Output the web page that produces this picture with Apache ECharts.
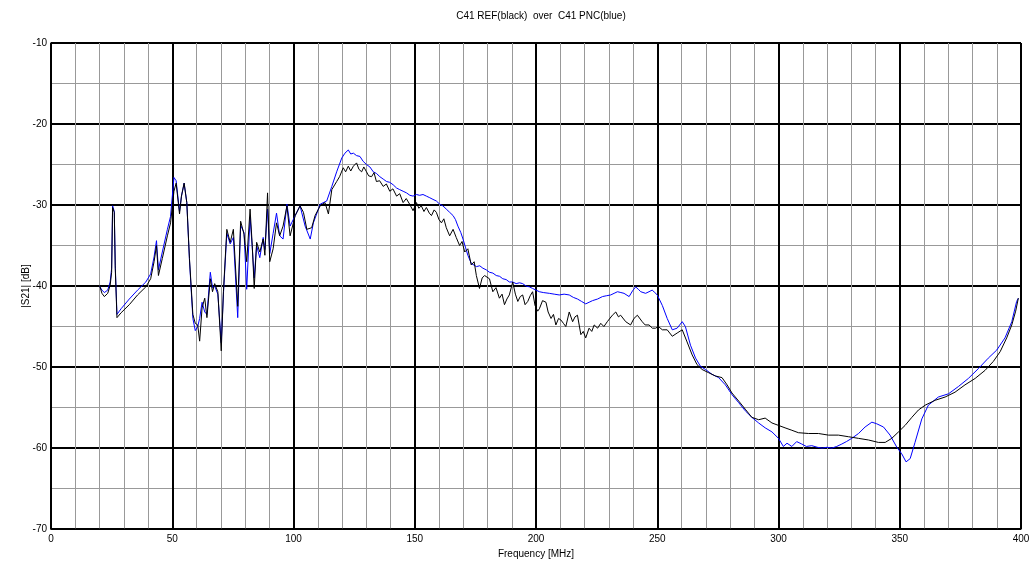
<!DOCTYPE html>
<html>
<head>
<meta charset="utf-8">
<script src="https://cdn.jsdelivr.net/npm/echarts@6/dist/echarts.min.js"></script>
<style>
  html, body { margin: 0; padding: 0; background: #fff; }
  #chart { width: 1035px; height: 564px; }
</style>
</head>
<body>
<div id="chart"></div>
<script>
// C41 REF (black) — frequency in MHz, |S21| in dB
const refFreq = [
  20, 21, 22, 23.4, 24.4, 25, 25.4, 26.1, 26.5, 27.2, 28.9, 32.3, 35.7, 39.1, 41.1, 42.5, 43.5, 44.3, 45.9, 48,
  49.3, 50.7, 51.6, 53, 53.8, 54.9, 56, 57.1, 58.5, 59.5, 60.5, 61.3, 62.3, 63.4, 64.3, 65.7, 66.6, 67.5, 68.8, 70.2,
  71.1, 72.5, 73.9, 75.2, 77, 78.2, 79.6, 80.7, 82.1, 83, 83.8, 84.8, 86.1, 87.5, 88.2, 89.3, 90.2, 91.6, 93, 94.3,
  95.7, 97.3, 98.6, 100.7, 102.7, 104.1, 105.5, 107.5, 108.9, 111, 113, 114.4, 115.8, 117.8, 119, 120.5, 121.5, 122.6, 123.6, 124.7,
  126, 127, 128.1, 129, 130.1, 131, 132.2, 133.2, 134.2, 135.5, 137, 138.3, 139.7, 141, 142.5, 143.8, 145.2, 146.5, 147.9, 149.3,
  150.7, 151.7, 152.7, 153.8, 154.8, 156, 156.9, 158, 158.9, 160, 161, 162, 163, 164.4, 165.8, 167.1, 168.5, 169.5, 170.6, 171.9,
  173.3, 174.5, 175.4, 176.7, 177.8, 178.8, 180.8, 182.2, 183.5, 184.9, 186, 187, 188, 189, 190.4, 191.5, 192.5, 193.5, 194.5, 195.5,
  196.6, 197.6, 198.6, 199.6, 200.7, 201.4, 202.7, 204.1, 205, 206.2, 207.2, 208.2, 209.3, 210.3, 211.3, 212.3, 213.7, 215.1, 216.1, 217.1,
  218.5, 219.5, 220.5, 221.9, 223, 224, 225.4, 226.7, 228, 229.4, 231.5, 232.9, 234, 234.9, 237, 239, 240.4, 241.8, 243.8, 245,
  246.6, 248, 249.3, 250.5, 252.1, 254.1, 256.2, 258.2, 260.3, 262.3, 264.4, 266.4, 268.5, 271.2, 274, 276.7, 278.8, 280.8, 283.6, 286.3,
  289, 291.8, 294.5, 297.3, 300, 302.7, 305.5, 308.2, 312.4, 316.5, 320.6, 324.7, 328.9, 333, 337.1, 341.2, 344, 346.7, 349.5, 352.2,
  355, 357.7, 360.5, 364.6, 368.7, 372.8, 376.9, 381.1, 385.2, 388.6, 391.4, 394.1, 396.2, 397.8, 398.9
];
const refDb = [
  -39.9, -40.9, -41.3, -40.9, -39.9, -38.3, -30.3, -30.9, -37.8, -43.9, -43.3, -42.3, -41.1, -40.1, -39.1, -37.0, -35.0, -38.7, -36.6, -33.8,
  -32.2, -28.3, -27.3, -31.1, -28.9, -27.3, -29.7, -36.6, -43.5, -44.6, -44.8, -46.8, -42.7, -41.5, -43.9, -39.1, -40.7, -39.7, -40.7, -48.0,
  -40.7, -33.0, -34.6, -33.0, -42.5, -32.0, -33.6, -37.0, -30.5, -35.0, -40.3, -34.6, -35.8, -34.2, -36.2, -28.5, -37.0, -35.4, -32.2, -33.8,
  -32.6, -30.1, -33.8, -31.3, -30.1, -30.9, -33.0, -32.8, -31.3, -30.1, -29.7, -31.1, -28.1, -27.1, -26.5, -25.4, -25.9, -25.2, -25.8, -25.2,
  -24.8, -25.6, -25.9, -25.3, -25.9, -26.4, -26.5, -26.0, -27.1, -27.0, -27.7, -27.4, -28.3, -28.0, -28.9, -28.6, -29.7, -29.2, -29.9, -30.7,
  -29.7, -30.4, -30.1, -30.8, -30.3, -31.0, -31.3, -30.6, -30.9, -31.8, -32.2, -31.7, -32.8, -33.8, -33.0, -34.0, -35.0, -34.5, -35.8, -35.4,
  -37.4, -37.0, -38.7, -40.3, -39.0, -38.7, -39.1, -40.7, -40.2, -41.5, -41.0, -42.3, -41.6, -41.1, -39.5, -41.0, -41.9, -41.3, -41.1, -42.3,
  -41.9, -41.2, -40.7, -42.4, -43.1, -42.8, -41.8, -42.0, -43.2, -44.0, -43.5, -44.8, -44.0, -44.2, -44.6, -45.0, -43.2, -44.4, -43.8, -43.6,
  -46.0, -45.6, -46.4, -45.2, -45.6, -44.8, -45.2, -44.6, -45.0, -44.4, -43.6, -43.2, -43.8, -43.6, -44.4, -44.8, -44.0, -43.6, -44.4, -44.8,
  -44.8, -45.2, -45.2, -45.0, -45.4, -45.4, -46.2, -45.8, -45.4, -46.9, -48.5, -49.7, -50.3, -50.7, -51.1, -51.3, -52.2, -53.2, -54.2, -55.2,
  -56.2, -56.5, -56.3, -56.9, -57.2, -57.5, -57.8, -58.1, -58.2, -58.2, -58.4, -58.4, -58.6, -58.8, -59.0, -59.3, -59.3, -58.8, -58.0, -57.2,
  -56.2, -55.3, -54.7, -54.1, -53.7, -53.1, -52.2, -51.4, -50.4, -49.3, -48.1, -46.4, -44.8, -43.1, -41.5
];

// C41 PNC (blue)
const pncFreq = [
  20, 21, 22, 23.4, 24.4, 25, 25.4, 26.1, 26.5, 27.2, 28.9, 32.3, 35.7, 39.1, 41.1, 42.5, 43.5, 44.3, 45.9, 48,
  49.3, 50.7, 51.6, 53, 53.8, 54.9, 56, 57.1, 58.5, 59.5, 60.5, 61.3, 62.3, 63.4, 64.3, 65.7, 66.6, 67.5, 68.8, 70.2,
  71.1, 72.5, 73.9, 75.2, 77, 78.2, 79.6, 80.7, 82.1, 83, 83.8, 84.8, 86.1, 87.5, 88.2, 89.3, 90.2, 91.6, 93, 94.3,
  95.7, 97.3, 98.6, 100.7, 102.7, 104.8, 106.9, 108.2, 111, 113.7, 115.8, 117.8, 119.9, 121.2, 122.6, 123.6, 124.7, 126, 127.4, 128.7,
  130.1, 131.5, 132.9, 134.2, 135.6, 137, 138.4, 139.7, 141.1, 142.5, 143.8, 145.2, 146.6, 148, 149.3, 150.7, 152, 153.4, 154.8, 156.2,
  157.5, 158.9, 160.3, 161.6, 163, 164.4, 165.8, 166.8, 167.8, 169, 169.9, 170.9, 171.9, 173.3, 175.4, 176.8, 178.1, 179.5, 180.8, 182.2,
  183.6, 185, 186.3, 187.7, 189, 190.4, 191.8, 193.2, 194.5, 195.9, 197.3, 198.6, 200, 201.4, 203, 205.5, 207.5, 209.6, 211.6, 213.7,
  215.4, 217.1, 218.8, 220.5, 221.9, 223.3, 225.4, 227.4, 229, 230.8, 232.2, 233.6, 235, 236.3, 238.4, 239.8, 241.1, 242.2, 243.2, 245.2,
  246.6, 247.9, 249, 250, 252.1, 254.1, 256.2, 258.2, 260.3, 261.6, 263.7, 265.8, 267.8, 269.9, 272.6, 275.3, 278.1, 280.8, 283.6, 286.3,
  289, 291.8, 294.5, 297.3, 300, 302, 303.5, 305.5, 307.5, 309.6, 311.5, 313.7, 316, 318, 320, 322, 324, 326.1, 328, 330.2,
  333, 335.7, 338.5, 340.5, 343.3, 346, 348.8, 350.8, 352.6, 354.3, 356.3, 359.1, 361.8, 365.9, 370.1, 374.2, 378.3, 382.4, 386.5, 390,
  393.4, 396.2, 398.2, 398.9
];
const pncDb = [
  -40.0, -40.5, -40.8, -40.5, -39.5, -37.8, -30.1, -30.8, -37.5, -43.5, -42.8, -41.6, -40.5, -39.5, -38.5, -36.4, -34.4, -38.0, -35.8, -33.0,
  -31.4, -26.6, -27.0, -30.8, -28.9, -27.3, -29.7, -36.8, -44.0, -45.5, -45.0, -44.0, -42.0, -43.2, -43.5, -38.3, -40.2, -40.0, -41.0, -47.0,
  -41.0, -33.5, -34.8, -34.0, -43.9, -32.5, -33.4, -40.4, -31.5, -35.3, -39.0, -35.0, -36.5, -34.0, -35.5, -30.5, -36.0, -33.5, -31.0, -33.8,
  -34.2, -29.9, -32.6, -31.3, -30.1, -32.6, -34.2, -32.2, -29.9, -29.5, -27.7, -25.9, -24.2, -23.6, -23.2, -23.7, -23.6, -23.9, -24.0, -24.6,
  -25.0, -25.3, -25.9, -26.1, -26.5, -26.8, -27.1, -27.2, -27.5, -27.9, -28.1, -28.3, -28.5, -28.8, -28.9, -28.7, -28.8, -28.7, -28.9, -29.1,
  -29.3, -29.5, -29.9, -30.1, -30.5, -30.9, -31.3, -31.8, -32.6, -33.4, -34.2, -35.2, -36.2, -37.2, -37.6, -37.5, -37.8, -38.0, -38.3, -38.4,
  -38.7, -38.8, -39.1, -39.2, -39.5, -39.5, -39.7, -39.6, -39.7, -40.0, -40.1, -40.3, -40.5, -40.7, -40.8, -40.9, -41.0, -41.1, -41.0, -41.1,
  -41.4, -41.6, -41.9, -42.2, -42.0, -41.8, -41.6, -41.3, -41.2, -41.1, -40.9, -40.7, -40.8, -40.9, -41.3, -40.6, -40.1, -40.4, -40.7, -40.9,
  -40.7, -40.5, -40.8, -41.1, -42.4, -44.0, -45.4, -45.2, -44.4, -45.0, -47.3, -48.9, -49.9, -50.3, -50.9, -51.3, -52.2, -53.4, -54.4, -55.4,
  -56.2, -56.9, -57.5, -58.0, -58.8, -59.8, -59.4, -59.8, -59.2, -59.5, -59.8, -59.7, -59.9, -60.0, -59.9, -60.0, -59.8, -59.5, -59.2, -58.8,
  -58.2, -57.4, -56.8, -57.0, -57.4, -58.4, -59.9, -60.7, -61.7, -61.3, -59.3, -56.4, -54.7, -53.7, -53.3, -52.4, -51.4, -50.2, -48.9, -47.9,
  -46.4, -44.4, -41.9, -41.5
];

const xTicks = [0, 50, 100, 150, 200, 250, 300, 350, 400];
const yTicks = [-70, -60, -50, -40, -30, -20, -10];

const pair = (xs, ys) => xs.map((x, i) => [x, ys[i]]);

const chart = echarts.init(document.getElementById('chart'), null, { renderer: 'canvas' });

const font = 'Liberation Sans, Arial, sans-serif';

chart.setOption({
  animation: false,
  backgroundColor: '#fff',
  title: {
    text: 'C41 REF(black)  over  C41 PNC(blue)',
    left: 536,
    textAlign: 'center',
    top: 6,
    textStyle: { fontSize: 10, fontWeight: 'normal', color: '#000', fontFamily: font }
  },
  grid: { left: 51, right: 14, top: 43, bottom: 33 },
  xAxis: {
    type: 'value',
    min: xTicks[0],
    max: xTicks[xTicks.length - 1],
    interval: 50,
    name: 'Frequency [MHz]',
    nameLocation: 'middle',
    nameGap: 19,
    nameTextStyle: { fontSize: 10, color: '#000', fontFamily: font },
    axisLine: { lineStyle: { color: '#000', width: 1.5 } },
    axisTick: { show: false },
    axisLabel: { fontSize: 10, color: '#000', fontFamily: font, margin: 5 },
    splitLine: { lineStyle: { color: '#000', width: 2 } },
    minorTick: { show: false, splitNumber: 5 },
    minorSplitLine: { show: true, lineStyle: { color: '#999', width: 1 } }
  },
  yAxis: {
    type: 'value',
    min: yTicks[0],
    max: yTicks[yTicks.length - 1],
    interval: 10,
    name: '|S21| [dB]',
    nameLocation: 'middle',
    nameGap: 20,
    nameMoveOverlap: false,
    nameRotate: 90,
    nameTextStyle: { fontSize: 10, color: '#000', fontFamily: font },
    axisLine: { show: true, lineStyle: { color: '#000', width: 1.5 } },
    axisTick: { show: false },
    axisLabel: { fontSize: 10, color: '#000', fontFamily: font, margin: 4 },
    splitLine: { lineStyle: { color: '#000', width: 2 } },
    minorTick: { show: false, splitNumber: 2 },
    minorSplitLine: { show: true, lineStyle: { color: '#999', width: 1 } }
  },
  series: [
    {
      name: 'C41 PNC',
      type: 'line',
      data: pair(pncFreq, pncDb),
      showSymbol: false,
      lineStyle: { color: '#0000ff', width: 1 },
      z: 3
    },
    {
      name: 'C41 REF',
      type: 'line',
      data: pair(refFreq, refDb),
      showSymbol: false,
      lineStyle: { color: '#000', width: 1 },
      z: 4
    }
  ]
});
</script>
</body>
</html>
